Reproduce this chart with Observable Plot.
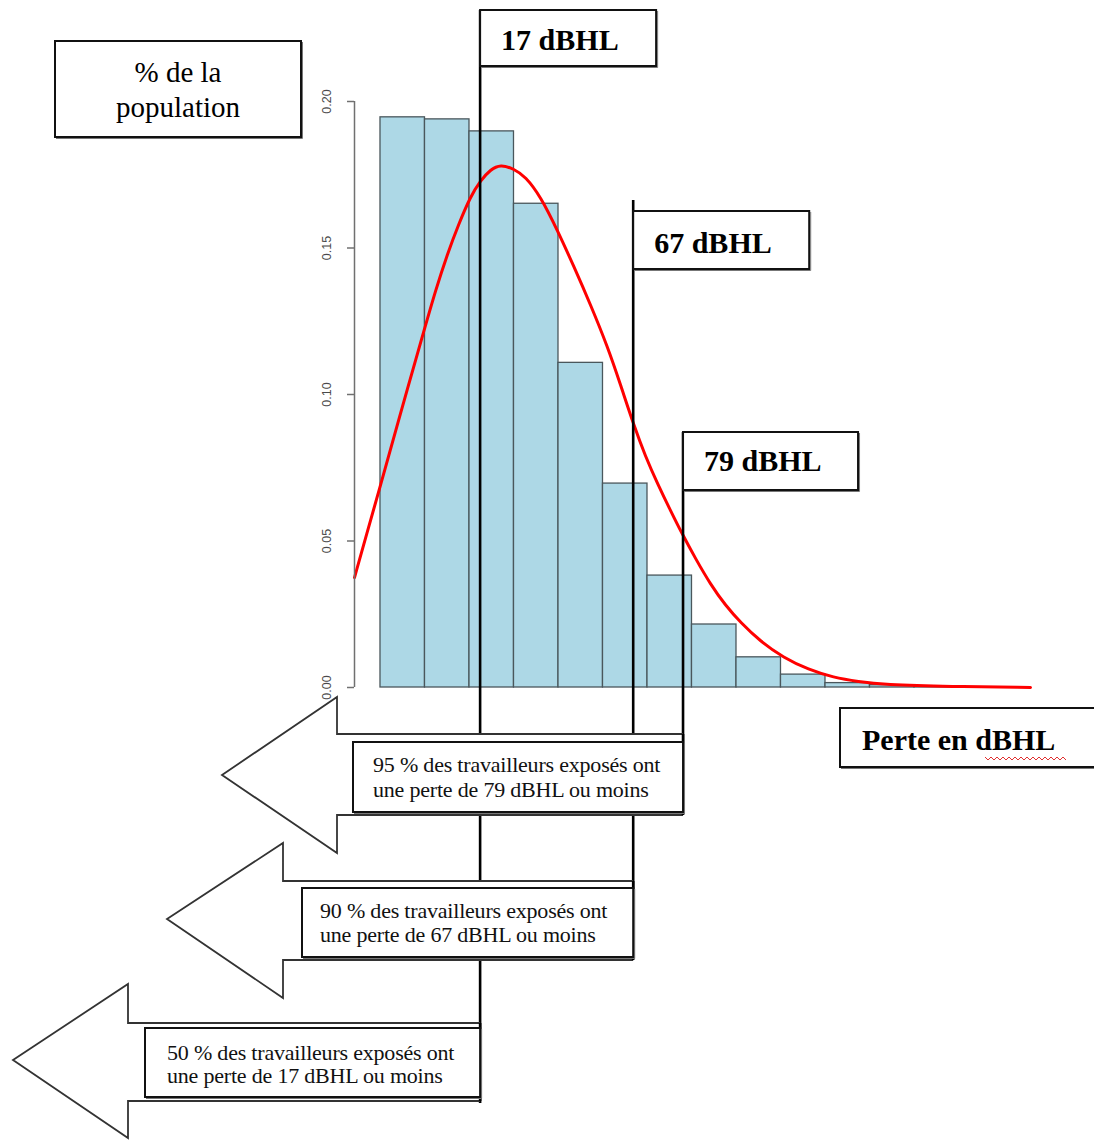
<!DOCTYPE html>
<html>
<head>
<meta charset="utf-8">
<script src="https://cdn.jsdelivr.net/npm/d3@7"></script>
<script src="https://cdn.jsdelivr.net/npm/@observablehq/plot@0.6"></script>
<style>
  html, body { margin: 0; padding: 0; background: #fff; }
  #chart { position: relative; width: 1094px; height: 1140px; overflow: hidden; }
  #chart svg { display: block; }
</style>
</head>
<body>
<div id="chart"></div>
<script>
// ---------- DATA ----------
// histogram bins (schematic units: 10 per bin)
const binStart = [0, 10, 20, 30, 40, 50, 60, 70, 80, 90, 100, 110, 120];
const binWidth = 10;
const binHeight = [0.1946, 0.1939, 0.1898, 0.1651, 0.1108, 0.0696, 0.0382, 0.0215, 0.0103, 0.0044, 0.0015, 0.0008, 0.0004];

// fitted density curve (red)
const curveX = [-5.84, -3.15, 0, 4.04, 9.66, 12.36, 15.06, 17.53, 20.22, 22.47, 24.72, 26.97, 29.89, 32.58, 35.96, 39.78, 43.37, 47.19, 51.01, 53.93, 56.85, 59.55, 62.25, 65.17, 67.87, 70.79, 74.16, 77.53, 80.9, 85.39, 90.56, 96.18, 101.8, 107.42, 113.03, 128.09, 146.07];
const curveY = [0.0375, 0.0522, 0.0689, 0.0911, 0.1212, 0.1355, 0.1481, 0.1580, 0.1676, 0.1730, 0.1768, 0.1785, 0.1771, 0.1744, 0.1676, 0.1560, 0.1440, 0.1307, 0.1164, 0.1034, 0.0898, 0.0788, 0.0696, 0.0604, 0.0522, 0.0440, 0.0352, 0.0280, 0.0222, 0.0157, 0.0102, 0.0061, 0.0034, 0.0020, 0.0010, 0.0003, 0.0];

// y axis
const yTicks = [0, 0.05, 0.10, 0.15, 0.20];
const yTickLabels = ["0.00", "0.05", "0.10", "0.15", "0.20"];

// thresholds (position on the schematic x axis) and their labels
const thresholdPos = [22.5, 56.9, 68.1];
const thresholdLabels = ["17 dBHL", "67 dBHL", "79 dBHL"];

// texts
const yTitle = ["% de la", "population"];
const xTitle = "Perte en dBHL";
const shareLine1 = ["50 % des travailleurs exposés ont", "90 % des travailleurs exposés ont", "95 % des travailleurs exposés ont"];
const shareLine2 = ["une perte de 17 dBHL ou moins", "une perte de 67 dBHL ou moins", "une perte de 79 dBHL ou moins"];

// ---------- BUILD ----------
const bins = binStart.map((s, i) => ({x1: s, x2: s + binWidth, h: binHeight[i]}));
const curve = curveX.map((x, i) => ({x, y: curveY[i]}));
const ticks = yTicks.map((v, i) => ({v, label: yTickLabels[i]}));
const xDomain = [-5.84, 146.07];

const chart = Plot.plot({
  width: 1094,
  height: 1140,
  marginLeft: 354,
  marginRight: 64,
  marginTop: 101,
  marginBottom: 453,
  x: {domain: xDomain, axis: null},
  y: {domain: [0, 0.2], axis: null},
  style: {background: "white", overflow: "visible"},
  marks: [
    Plot.rect(bins, {x1: "x1", x2: "x2", y1: 0, y2: "h", fill: "#add8e6", stroke: "#4a575c", strokeWidth: 1.3}),
    Plot.line(curve, {x: "x", y: "y", stroke: "#ff0000", strokeWidth: 3, curve: "basis"}),
    Plot.ruleX([xDomain[0]], {y1: 0, y2: 0.2, stroke: "#707070", strokeWidth: 1.5}),
    Plot.axisY({ticks: yTicks, tickSize: 7, tickFormat: () => "", stroke: "#707070", strokeWidth: 1.5, label: null}),
    Plot.text(ticks, {x: xDomain[0], y: "v", text: "label", rotate: -90, dx: -28, fill: "#4a4a4a", fontSize: 12.5, fontFamily: "Liberation Sans, Arial, sans-serif", textAnchor: "middle"})
  ]
});

document.getElementById("chart").appendChild(chart);

// ---------- ANNOTATIONS ----------
const xs = chart.scale("x").apply;
const svg = d3.select(chart);
const g = svg.append("g").attr("text-anchor", "start");
const serif = "Liberation Serif, Times New Roman, serif";

// layout (pixels) for callouts
const lineTop = [10, 200, 432];
const lineBottom = [1103, 958, 814];
const headBox = [{top: 10, bottom: 66, w: 176, base: 50}, {top: 211, bottom: 269, w: 176, base: 253}, {top: 432, bottom: 490, w: 175, base: 471}];
const arrows = [
  {tipX: 13, tipY: 1060, back: 128, headTop: 984, headBottom: 1138, shaftTop: 1023, shaftBottom: 1101, boxL: 145, boxT: 1028, boxB: 1097, tx: 167, b1: 1060, b2: 1083},
  {tipX: 167, tipY: 919, back: 283, headTop: 843, headBottom: 998, shaftTop: 881, shaftBottom: 960, boxL: 302, boxT: 888, boxB: 957, tx: 320, b1: 918, b2: 942},
  {tipX: 222, tipY: 775, back: 337, headTop: 697, headBottom: 853, shaftTop: 734, shaftBottom: 815, boxL: 353, boxT: 742, boxB: 812, tx: 373, b1: 772, b2: 797}
];

function box(x, y, w, h) {
  g.append("rect").attr("x", x).attr("y", y).attr("width", w).attr("height", h)
    .attr("fill", "#fff").attr("stroke", "#111").attr("stroke-width", 2);
  // slight shadow on bottom/right edges
  g.append("path").attr("d", `M${x + 1},${y + h + 1.5} L${x + w + 1.5},${y + h + 1.5} L${x + w + 1.5},${y + 1}`)
    .attr("fill", "none").attr("stroke", "#777").attr("stroke-width", 1);
}

// threshold lines
thresholdPos.forEach((p, i) => {
  g.append("line").attr("x1", xs(p)).attr("x2", xs(p)).attr("y1", lineTop[i]).attr("y2", lineBottom[i])
    .attr("stroke", "#000").attr("stroke-width", 2.6);
});

// threshold label boxes
thresholdPos.forEach((p, i) => {
  const b = headBox[i], x0 = xs(p);
  box(x0, b.top, b.w, b.bottom - b.top);
  g.append("text").attr("x", x0 + 21).attr("y", b.base).text(thresholdLabels[i])
    .attr("text-anchor", "start")
    .attr("font-family", serif).attr("font-weight", "bold").attr("font-size", 30).attr("fill", "#000");
});

// y title box
box(55, 41, 246, 96);
yTitle.forEach((t, i) => {
  g.append("text").attr("x", 178).attr("y", 82 + i * 35).attr("text-anchor", "middle").text(t)
    .attr("font-family", serif).attr("font-size", 29).attr("fill", "#000");
});

// x title box
box(840, 708, 270, 59);
g.append("text").attr("x", 862).attr("y", 750).text(xTitle).attr("text-anchor", "start")
  .attr("font-family", serif).attr("font-weight", "bold").attr("font-size", 30).attr("fill", "#000");
// spell-check wavy underline under "dBHL"
{
  let d = "M985,757";
  for (let x = 985, k = 0; x < 1065; x += 3, k++) d += ` L${x + 3},${k % 2 ? 757 : 760}`;
  g.append("path").attr("d", d).attr("fill", "none").attr("stroke", "#e03030").attr("stroke-width", 1);
}

// arrows with text boxes (drawn from the 95 % one down to the 50 % one)
arrows.slice().reverse().forEach((a) => {
  const i = arrows.indexOf(a);
  const R = xs(thresholdPos[i]);
  const path = `M${R},${a.shaftTop} L${a.back},${a.shaftTop} L${a.back},${a.headTop} L${a.tipX},${a.tipY} L${a.back},${a.headBottom} L${a.back},${a.shaftBottom} L${R},${a.shaftBottom}`;
  g.append("path").attr("d", path).attr("fill", "#fff").attr("stroke", "#333").attr("stroke-width", 1.8).attr("stroke-linejoin", "miter");
  g.append("line").attr("x1", R).attr("x2", R).attr("y1", a.shaftTop).attr("y2", a.shaftBottom).attr("stroke", "#000").attr("stroke-width", 2.6);
  box(a.boxL, a.boxT, R - a.boxL, a.boxB - a.boxT);
  g.append("text").attr("x", a.tx).attr("y", a.b1).text(shareLine1[i]).attr("text-anchor", "start")
    .attr("font-family", serif).attr("font-size", 22).attr("letter-spacing", -0.2).attr("fill", "#111");
  g.append("text").attr("x", a.tx).attr("y", a.b2).text(shareLine2[i]).attr("text-anchor", "start")
    .attr("font-family", serif).attr("font-size", 22).attr("letter-spacing", -0.2).attr("fill", "#111");
});
</script>
</body>
</html>
